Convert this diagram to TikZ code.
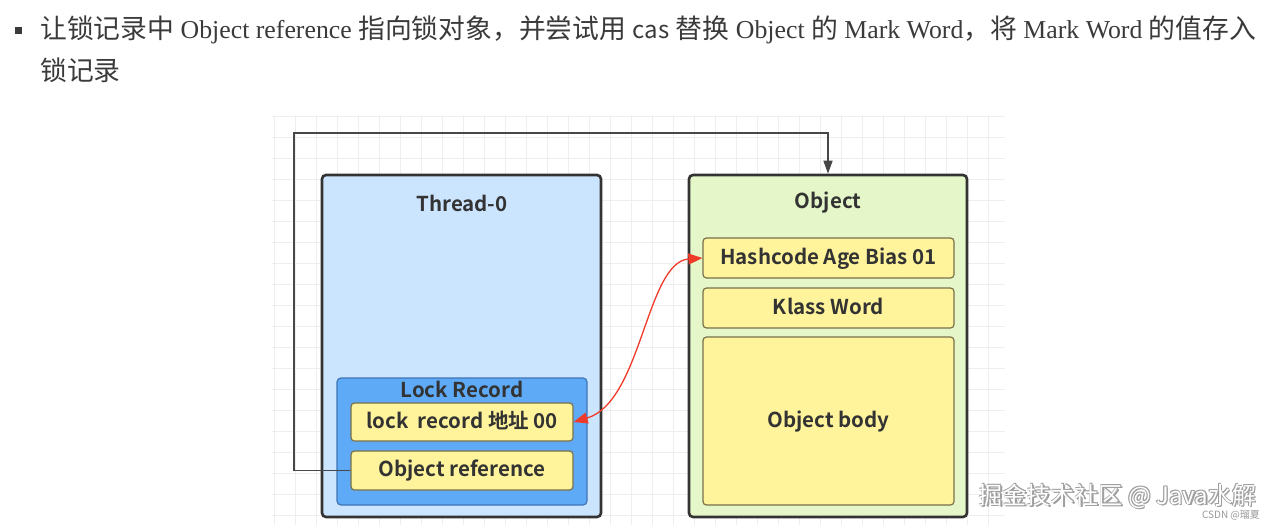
\documentclass[tikz,border=0pt]{standalone}
\usepackage{fontspec}
\setmainfont{Liberation Serif}
\newfontfamily\cjk{Noto Sans CJK SC}
\newfontfamily\dgm{Noto Sans CJK SC}[BoldFont={* Bold}]
\usetikzlibrary{arrows.meta}
\definecolor{txt}{HTML}{3A3A3A}
\definecolor{dk}{HTML}{333333}
\definecolor{tblue}{HTML}{CCE5FF}
\definecolor{lblue}{HTML}{5EAAF7}
\definecolor{lbord}{HTML}{3F74B5}
\definecolor{ogreen}{HTML}{E5F7C9}
\definecolor{yel}{HTML}{FFF49B}
\definecolor{ybord}{HTML}{77704A}
\definecolor{gridc}{HTML}{EEEEEE}
\definecolor{arr}{HTML}{F03A2A}
\newcommand{\zh}[1]{{\cjk\fontsize{26.8}{30}\selectfont #1}}
\tikzset{
  bigbox/.style={draw=dk, line width=2.6pt, rounded corners=4pt, inner sep=0pt},
  ybox/.style={draw=ybord, fill=yel, line width=1.2pt, rounded corners=3.5pt, inner sep=0pt,
    font=\dgm\bfseries\fontsize{20.5}{22}\selectfont, text=dk, text height=14pt, text depth=2pt},
  lbl/.style={font=\dgm\bfseries\fontsize{20.5}{22}\selectfont, text=dk, inner sep=0pt},
  conn/.style={draw=dk!90, line width=1.4pt},
  hdr/.style={anchor=west, inner sep=0pt, text=txt, font=\fontsize{25.8}{30}\selectfont}
}
\begin{document}
\begin{tikzpicture}[x=1pt,y=-1pt]
\useasboundingbox (0,0) rectangle (1280,530);
% grid background
\foreach \gx in {274,295,...,1005} \draw[gridc, line width=0.6pt] (\gx,115) -- (\gx,525);
\foreach \gy in {116,137,...,525} \draw[gridc, line width=0.6pt] (272,\gy) -- (1005,\gy);
% header
\node[fill=txt, minimum size=7pt, inner sep=0pt] (bul) at (18,30.5) {};
\node[hdr] (l1) at (40,30) {\zh{让锁记录中} Object reference \zh{指向锁对象，并尝试用} {\cjk\fontsize{24}{28}\selectfont cas} \zh{替换} Object \zh{的} Mark Word\zh{，将} Mark Word \zh{的值存入}};
\node[hdr] (l2) at (40,70) {\zh{锁记录}};
% boxes
\node[bigbox, fill=tblue, minimum width=279pt, minimum height=342pt] (thr) at (461.5,346) {};
\node[bigbox, fill=ogreen, minimum width=278pt, minimum height=342pt] (obj) at (828,346) {};
\node[lbl] (thrl) at (462,203) {Thread-0};
\node[lbl] (objl) at (828,203) {Object};
\node[draw=lbord, fill=lblue, line width=1.2pt, rounded corners=4pt, minimum width=250pt, minimum height=127pt, inner sep=0pt] (lr) at (462,441.5) {};
\node[lbl] (lrl) at (462,389) {Lock Record};
\node[ybox, minimum width=222pt, minimum height=38pt] (addr) at (462,422) {lock\ \ record 地址 00};
\node[ybox, minimum width=222pt, minimum height=39pt] (oref) at (462,470.5) {Object reference};
\node[ybox, minimum width=251pt, minimum height=40pt] (hash) at (828.5,258) {Hashcode Age Bias 01};
\node[ybox, minimum width=251pt, minimum height=40pt] (klass) at (828.5,308) {Klass Word};
\node[ybox, minimum width=251pt, minimum height=168pt] (body) at (828.5,421) {Object body};
% connectors
\coordinate (c1) at (294,133);
\draw[conn, -{Triangle[length=13pt,width=9pt]}] (oref.west) -| (c1) -| (obj.north);
\draw[draw=arr, line width=1.3pt, {Triangle[length=14pt,width=11pt]}-{Triangle[length=14pt,width=11pt]}]
  (addr.east) .. controls (642,402) and (646,262) .. (hash.west);
% watermark
\foreach \dx/\dy in {1.2/1.2,-0.8/0.8,0.8/-0.8,-0.8/-0.8,1.6/1.6}
  \node[text=gray!75, font=\cjk\fontsize{24}{26}\selectfont, inner sep=0pt] at (1117.5+\dx,496+\dy) {掘金技术社区 @ Java水解};
\node[text=white, font=\cjk\fontsize{24}{26}\selectfont, inner sep=0pt] (wm) at (1117.5,496) {掘金技术社区 @ Java水解};
\node[text=gray!80, font=\cjk\fontsize{10}{12}\selectfont, inner sep=0pt] (wm2) at (1231,515) {CSDN @瑠夏};
\end{tikzpicture}
\end{document}
